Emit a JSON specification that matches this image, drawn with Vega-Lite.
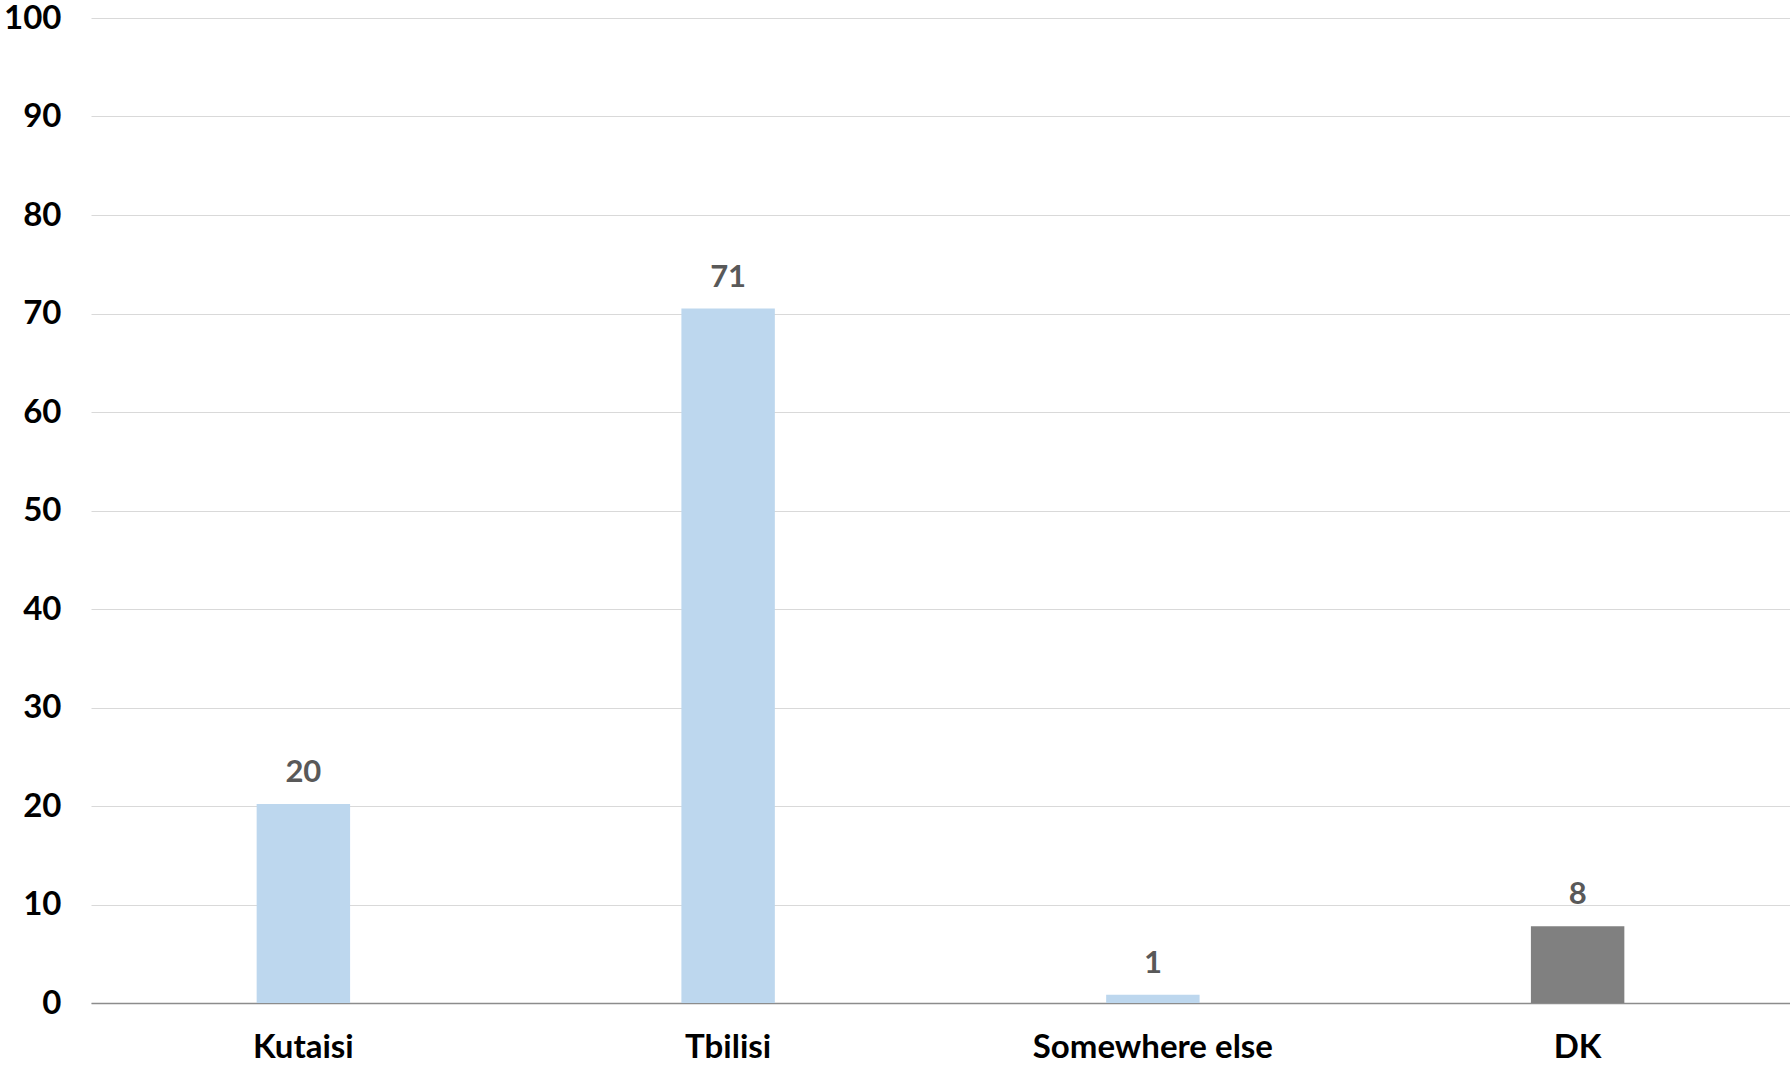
{
  "$schema": "https://vega.github.io/schema/vega-lite/v6.json",
  "autosize": {"type": "none"},
  "width": 1699,
  "height": 985,
  "padding": {"left": 91, "top": 18, "right": 0, "bottom": 64},
  "background": "white",
  "config": {"view": {"stroke": null}, "font": "Lato"},
  "data": {"values": [
    {"place": "Kutaisi", "value": 20.2, "label": "20", "kind": "a"},
    {"place": "Tbilisi", "value": 70.5, "label": "71", "kind": "a"},
    {"place": "Somewhere else", "value": 0.85, "label": "1", "kind": "a"},
    {"place": "DK", "value": 7.8, "label": "8", "kind": "b"}
  ]},
  "encoding": {
    "x": {"field": "place", "type": "nominal", "sort": null,
      "scale": {"paddingInner": 0.78, "paddingOuter": 0.39},
      "axis": {"title": null, "labelAngle": 0, "labelFontSize": 33, "labelFontWeight": "bold", "labelColor": "#000000", "labelPadding": 28, "labelLimit": 600, "ticks": false, "domainColor": "#8c8c8c", "domainWidth": 1.5, "grid": false}},
    "y": {"field": "value", "type": "quantitative",
      "scale": {"domain": [0, 100], "nice": false},
      "axis": {"title": null, "values": [0,10,20,30,40,50,60,70,80,90,100], "labelFontSize": 33, "labelFontWeight": "bold", "labelColor": "#000000", "labelPadding": 30, "labelFlush": false, "ticks": false, "domain": false, "gridColor": "#d9d9d9", "gridWidth": 1.2}}
  },
  "layer": [
    {"mark": {"type": "bar"},
     "encoding": {"color": {"field": "kind", "type": "nominal", "scale": {"domain": ["a", "b"], "range": ["#bdd7ee", "#808080"]}, "legend": null}}},
    {"mark": {"type": "text", "dy": -22, "baseline": "alphabetic", "fontSize": 31, "fontWeight": "bold", "color": "#595959"},
     "encoding": {"text": {"field": "label"}}}
  ]
}
